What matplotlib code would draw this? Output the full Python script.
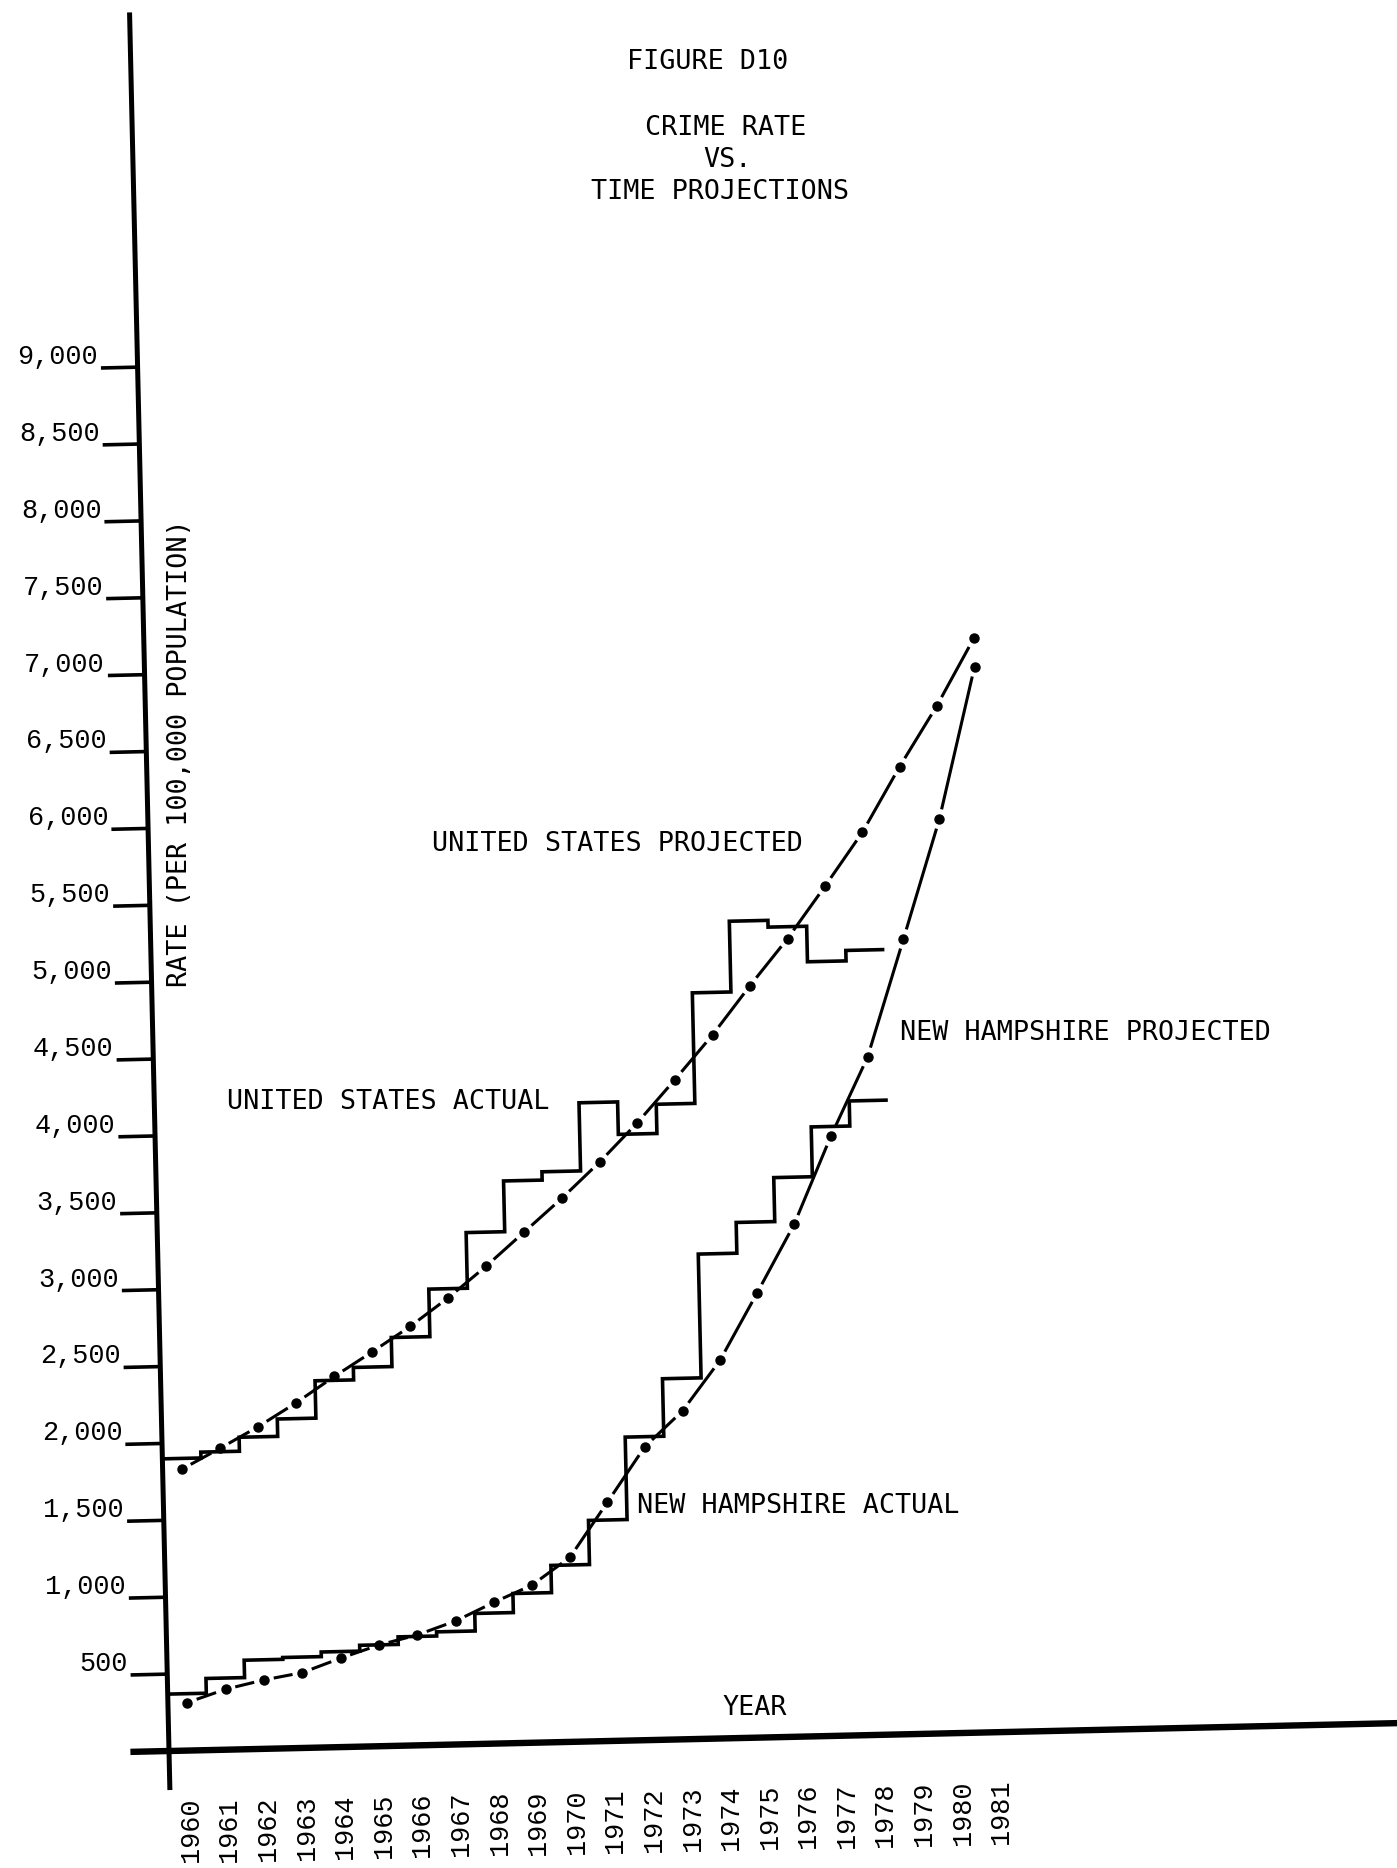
import matplotlib
matplotlib.use("Agg")
import matplotlib.pyplot as plt
from matplotlib.transforms import Affine2D
import numpy as np

# ---------------- data ----------------
years_actual = list(range(1960, 1979))          # each step spans [year, year+1]
us_actual = [1900, 1938, 2029, 2142, 2385, 2466, 2655, 2964, 3326, 3656,
             3710, 4153, 3942, 4132, 4851, 5311, 5267, 5036, 5104]
nh_actual = [370, 466, 579, 591, 621, 659, 708, 735, 849, 973,
             1150, 1437, 1973, 2347, 3152, 3352, 3638, 3962, 4125]

proj_years = list(range(1960, 1982))            # plotted at mid-year
us_projected = [1830, 1960, 2095, 2245, 2410, 2565, 2725, 2905, 3105, 3320,
                3535, 3765, 4015, 4290, 4575, 4890, 5190, 5525, 5870, 6290,
                6680, 7115]
nh_projected = [312, 393, 448, 490, 578, 658, 718, 803, 918, 1025,
                1200, 1552, 1907, 2135, 2458, 2890, 3331, 3897, 4407, 5170,
                5944, 6929]

y_ticks = list(range(500, 9001, 500))
y_tick_labels = [f"{v:,}" for v in y_ticks]
x_tick_years = list(range(1960, 1982))
x_tick_labels = [str(y) for y in x_tick_years]

title_lines = ["FIGURE D10", "CRIME RATE", "VS.", "TIME PROJECTIONS"]
y_label = "RATE (PER 100,000 POPULATION)"
x_label = "YEAR"
series_labels = ["UNITED STATES PROJECTED", "UNITED STATES ACTUAL",
                 "NEW HAMPSHIRE PROJECTED", "NEW HAMPSHIRE ACTUAL"]

# ---------------- layout ----------------
W, H, DPI = 1397, 1868, 100
ORIGIN_X, ORIGIN_Y = 169, 117        # display px of (1960, 0)
PX_YEAR = 38.6
PX_UNIT = 76.9 / 500
TILT = 1.3                           # scanned page is slightly rotated

TXT_FONT = "DejaVu Sans Mono"
TXT_SIZE = 19.3
TICK_FONT = "Liberation Mono"
TICK_SIZE = 19.4

fig = plt.figure(figsize=(W / DPI, H / DPI), dpi=DPI)
fig.patch.set_facecolor("white")
ax = fig.add_axes([0, 0, 1, 1])
ax.set_xlim(1960 - ORIGIN_X / PX_YEAR, 1960 + (W - ORIGIN_X) / PX_YEAR)
ax.set_ylim(-ORIGIN_Y / PX_UNIT, (H - ORIGIN_Y) / PX_UNIT)
ax.axis("off")

rot = Affine2D().rotate_deg_around(ORIGIN_X, ORIGIN_Y, TILT)
T = ax.transData + rot

# axes lines
ax.plot([1960, 1960], [-254, 11307], color="black", lw=3.6,
        solid_capstyle="butt", transform=T)
ax.plot([1959.0, 1996], [0, 0], color="black", lw=4.6,
        solid_capstyle="butt", transform=T)

# y ticks and labels
for v, lab in zip(y_ticks, y_tick_labels):
    ax.plot([1959.05, 1960], [v, v], color="black", lw=2.6,
            solid_capstyle="butt", transform=T)
    ax.text(1959.05, v, lab, ha="right", va="baseline",
            fontfamily=TICK_FONT, fontsize=TICK_SIZE,
            transform=T + Affine2D().translate(-3, 4))

# x tick labels (rotated)
for yr, lab in zip(x_tick_years, x_tick_labels):
    ax.text(yr + 0.5, -728, lab, rotation=90, ha="center", va="bottom",
            fontfamily=TICK_FONT, fontsize=TICK_SIZE, transform=T)

# actual step series
for vals in (us_actual, nh_actual):
    edges = years_actual + [years_actual[-1] + 1]
    sp = ax.stairs(vals, edges, baseline=None, color="black", lw=2.6,
                   transform=T)
    sp.set_joinstyle("miter")

# projected dot-dash series
GAP = 10.0   # px between dot centre and dash end
for vals in (us_projected, nh_projected):
    xs = np.array(proj_years, dtype=float) + 0.5
    vs = np.array(vals, dtype=float)
    disp = ax.transData.transform(np.column_stack([xs, vs]))
    for i in range(len(xs) - 1):
        L = np.hypot(*(disp[i + 1] - disp[i]))
        if L <= 2 * GAP + 2:
            continue
        t0, t1 = GAP / L, 1 - GAP / L
        x0 = xs[i] + t0 * (xs[i + 1] - xs[i])
        x1 = xs[i] + t1 * (xs[i + 1] - xs[i])
        v0 = vs[i] + t0 * (vs[i + 1] - vs[i])
        v1 = vs[i] + t1 * (vs[i + 1] - vs[i])
        ax.plot([x0, x1], [v0, v1], color="black", lw=2.2,
                solid_capstyle="butt", transform=T)
    ax.plot(xs, vs, linestyle="none", marker="o", ms=6.5, color="black",
            transform=T)

# texts (positions in figure pixels, y measured from top)
cap_half = TXT_SIZE * DPI / 72 * 0.729 / 2


def put(txt, cx, cy, **kw):
    fig.text(cx / W, 1 - (cy + cap_half) / H, txt, ha="center", va="baseline",
             fontfamily=TXT_FONT, fontsize=TXT_SIZE, **kw)


put(title_lines[0], 708, 59)
put(title_lines[1], 726, 125)
put(title_lines[2], 727, 157)
put(title_lines[3], 720, 189)
put(series_labels[0], 617, 841)
put(series_labels[1], 388, 1099)
put(series_labels[2], 1085, 1030)
put(series_labels[3], 798, 1503)
put(x_label, 755, 1705)
fig.text(180 / W, 1 - 753 / H, y_label, rotation=90, ha="center",
         va="center", fontfamily=TXT_FONT, fontsize=TXT_SIZE)

fig.savefig("out.png", dpi=DPI, facecolor="white")
